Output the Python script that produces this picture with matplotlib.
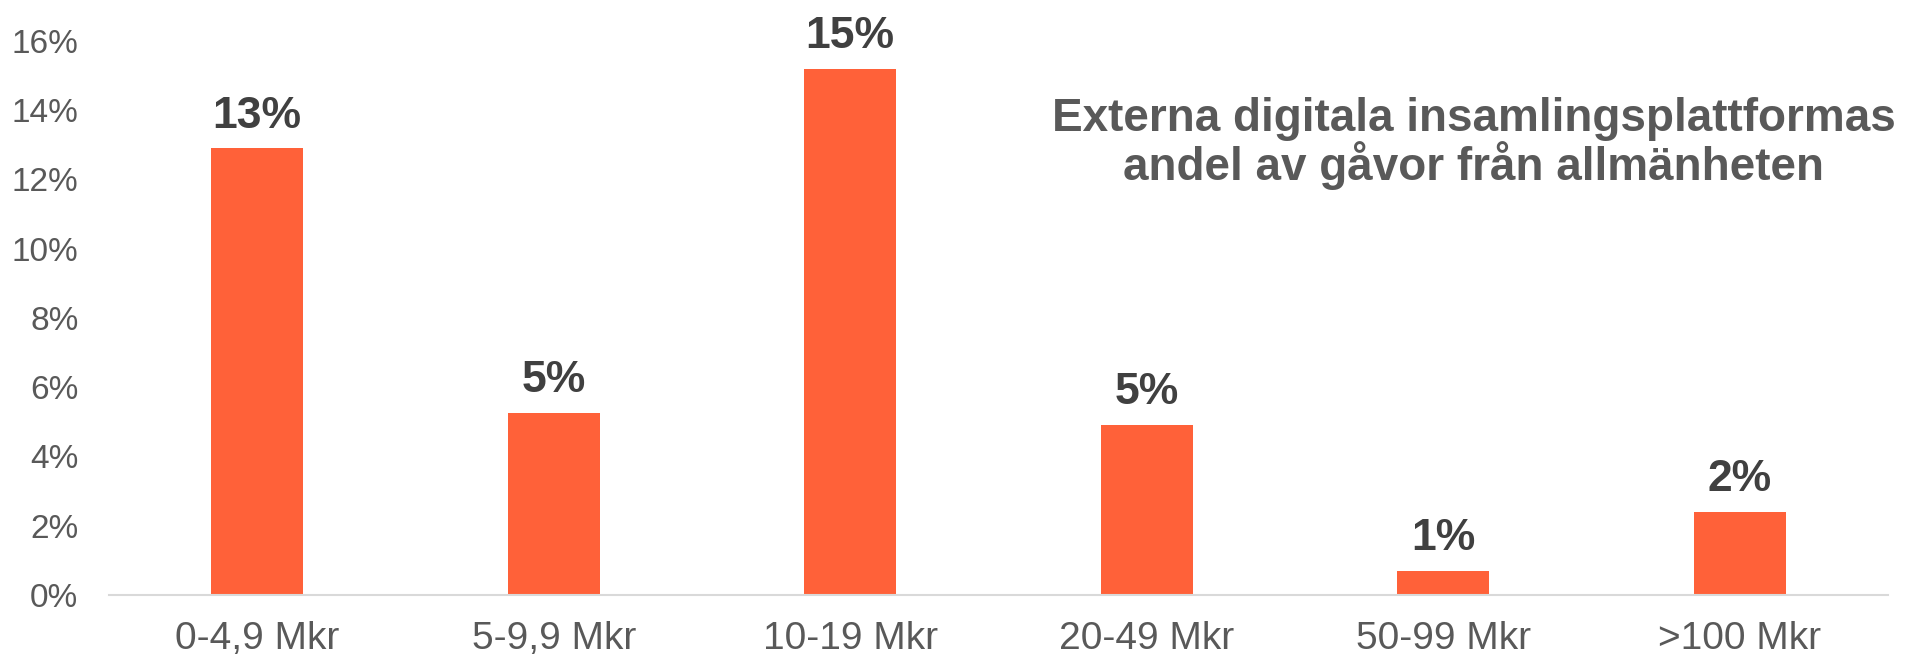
import matplotlib.pyplot as plt
import numpy as np

# Data
categories = ['0-4,9 Mkr', '5-9,9 Mkr', '10-19 Mkr', '20-49 Mkr', '50-99 Mkr', '>100 Mkr']
shares = [12.9, 5.25, 15.2, 4.9, 0.7, 2.4]
bar_labels = ['13%', '5%', '15%', '5%', '1%', '2%']
y_ticks = [0, 2, 4, 6, 8, 10, 12, 14, 16]

title_lines = ['Externa digitala insamlingsplattformas',
               'andel av gåvor från allmänheten']

fonts = ['Liberation Sans', 'DejaVu Sans']

fig = plt.figure(figsize=(19.08, 6.56), dpi=100)
ax = fig.add_axes([0.0571, 0.093, 0.9324, 0.8445])

x = np.arange(len(categories))
bars = ax.bar(x, shares, width=0.31, color='#FF6139', zorder=2)

# Value labels above bars
for rect, lab in zip(bars, bar_labels):
    ax.annotate(lab, (rect.get_x() + rect.get_width() / 2, rect.get_height()),
                xytext=(0, 15), textcoords='offset points',
                ha='center', va='baseline', fontsize=32, fontweight='bold',
                color='#404040', family=fonts, annotation_clip=False)

ax.set_xlim(-0.5, len(categories) - 0.5)
ax.set_ylim(0, 16)
ax.set_yticks(y_ticks)
ax.set_yticklabels([f'{t}%' for t in y_ticks])
ax.set_xticks(x)
ax.set_xticklabels(categories)

for lbl in ax.get_xticklabels():
    lbl.set_family(fonts)
    lbl.set_fontsize(28)
    lbl.set_color('#595959')
for lbl in ax.get_yticklabels():
    lbl.set_family(fonts)
    lbl.set_fontsize(24)
    lbl.set_color('#595959')

ax.tick_params(axis='both', length=0)
ax.tick_params(axis='x', pad=19)
ax.tick_params(axis='y', pad=22)

for side in ['top', 'right', 'left']:
    ax.spines[side].set_visible(False)
ax.spines['bottom'].set_color('#D9D9D9')
ax.spines['bottom'].set_linewidth(1.5)

# Chart title inside the plot area
for line, yb in zip(title_lines, [0.800, 0.7256]):
    fig.text(0.7725, yb, line, ha='center', va='baseline', fontsize=33,
             fontweight='bold', color='#595959', family=fonts)

plt.savefig('out.png', dpi=100)
plt.close()
